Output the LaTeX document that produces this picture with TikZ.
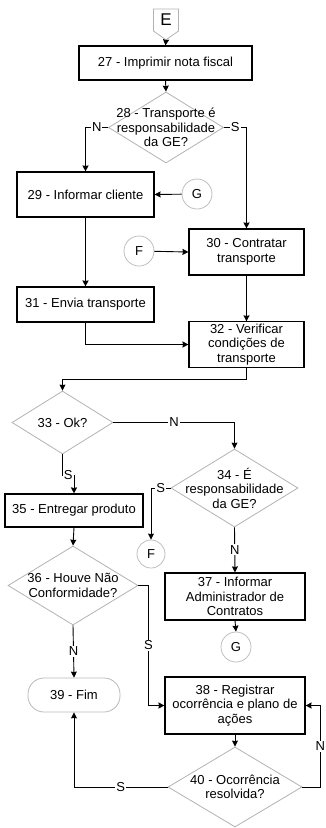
\documentclass[tikz,border=0pt]{standalone}
\usepackage{fontspec}
\setmainfont{Liberation Sans}
\usetikzlibrary{shapes.geometric, shapes.symbols, arrows.meta, positioning, calc}

\begin{document}
\begin{tikzpicture}[x=1pt, y=-1pt,
    every node/.style={font=\fontsize{13}{14.5}\selectfont},
    proc/.style={draw=black, line width=1.1pt, rectangle, align=center, inner sep=2pt},
    decision/.style={draw=gray!60, line width=0.8pt, diamond, inner sep=0pt},
    dtext/.style={align=center, inner sep=0pt},
    conn/.style={draw=gray!50, line width=0.8pt, circle, minimum size=30pt, inner sep=0pt},
    offpage/.style={draw=gray!60, line width=0.8pt, signal, signal to=south, signal from=nowhere,
        signal pointer angle=110, minimum width=25pt, minimum height=26pt, inner sep=0pt,
        font=\fontsize{17}{17}\selectfont},
    term/.style={draw=gray!55, line width=0.8pt, rectangle, rounded corners=16pt,
        minimum width=92pt, minimum height=34pt},
    flow/.style={line width=0.9pt, -{Stealth[length=6pt, width=6pt, inset=0.5pt]}},
    lbl/.style={fill=white, inner sep=1pt}]
    \useasboundingbox (0,0) rectangle (326,828);

    % Top
    \node[offpage] (E) at (166,20) {E};
    \node[proc, minimum width=173pt, minimum height=34pt] (b27) at (165.5,63) {27 - Imprimir nota fiscal};
    \node[decision, minimum width=115pt, minimum height=71pt,
        label={[dtext]center:{28 - Transporte é\\responsabilidade\\da GE?}}] (d28) at (166,127.5) {};

    % Transport branch
    \node[proc, minimum width=137pt, minimum height=45pt] (b29) at (85.5,194.5) {29 - Informar cliente};
    \node[conn] (G1) at (197,194) {G};
    \node[proc, minimum width=115pt, minimum height=46pt] (b30) at (246.5,252) {30 - Contratar\\transporte};
    \node[conn] (F1) at (139,251) {F};
    \node[proc, minimum width=137pt, minimum height=35pt] (b31) at (85.5,304.5) {31 - Envia transporte};
    \node[proc, minimum width=115pt, minimum height=45pt] (b32) at (246.5,344.5) {32 - Verificar\\condições de\\transporte};

    % Check
    \node[decision, minimum width=101pt, minimum height=63pt,
        label={[dtext]center:{33 - Ok?}}] (d33) at (62.5,422.5) {};
    \node[decision, minimum width=127pt, minimum height=78pt,
        label={[dtext]center:{34 - É\\responsabilidade\\da GE?}}] (d34) at (234.5,488) {};
    \node[proc, minimum width=138pt, minimum height=33pt] (b35) at (74,510.5) {35 - Entregar produto};
    \node[conn, minimum size=28pt] (F2) at (151,554) {F};
    \node[decision, minimum width=130pt, minimum height=79pt,
        label={[dtext]center:{36 - Houve Não\\Conformidade?}}] (d36) at (73,585.5) {};
    \node[proc, minimum width=140pt, minimum height=47pt] (b37) at (235,596.5) {37 - Informar\\Administrador de\\Contratos};
    \node[conn] (G2) at (236,647) {G};

    % End
    \node[term] (fim) at (74,695) {39 - Fim};
    \node[proc, minimum width=140pt, minimum height=57pt] (b38) at (235,705.5) {38 - Registrar\\ocorrência e plano de\\ações};
    \node[decision, minimum width=134pt, minimum height=80pt,
        label={[dtext]center:{40 - Ocorrência\\resolvida?}}] (d40) at (235,787) {};

    % Connectors
    \draw[flow] (E.south) -- (b27.north);
    \draw[flow] (b27.south) -- (d28.north);
    \draw[flow] (d28.west) -| node[lbl, pos=0.25] {N} (b29.north);
    \draw[flow] (d28.east) -| node[lbl, pos=0.25] {S} (b30.north);
    \draw[flow] (G1) -- (b29.east);
    \draw[flow] (F1) -- (b30.west);
    \draw[flow] (b29.south) -- (b31.north);
    \draw[flow] (b30.south) -- (b32.north);
    \draw[flow] (b31.south) |- (b32.west);
    \draw[flow] (b32.south) -- ++(0,-12pt) -| (d33.north);
    \draw[flow] (d33.east) -| node[lbl, pos=0.25] {N} (d34.north);
    \draw[flow] (d33.south) -- ++(0,-21pt) -| node[lbl, pos=0.25] {S} (b35.north);
    \draw[flow] (b35.south) -- (d36.north);
    \draw[flow] (d34.west) -| node[lbl, pos=0.25] {S} (F2.north);
    \draw[flow] (d34.south) -- node[lbl] {N} (b37.north);
    \draw[flow] (b37.south) -- (G2.north);
    \draw[flow] (d36.south) -- node[lbl] {N} (fim.north);
    \draw[flow] (d36.east) -- ++(10pt,0) |- node[lbl, pos=0.25] {S} (b38.west);
    \draw[flow] (b38.south) -- (d40.north);
    \draw[flow] (d40.west) -| node[lbl, pos=0.25] {S} (fim.south);
    \draw[flow] (d40.east) -- ++(18pt,0) |- node[lbl, pos=0.25] {N} (b38.east);
\end{tikzpicture}
\end{document}
